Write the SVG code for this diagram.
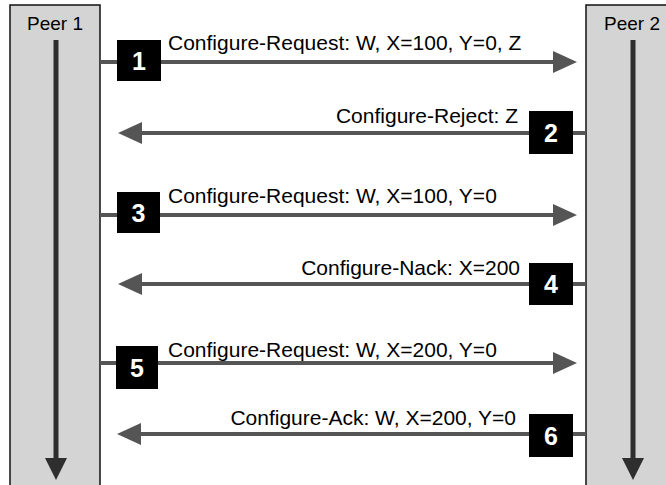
<svg xmlns="http://www.w3.org/2000/svg" width="666" height="485" viewBox="0 0 666 485">
<defs>
<style>
.peer{fill:#d4d4d4;stroke:#111;stroke-width:1.5}
.life{stroke:#2e2e2e;stroke-width:5}
.msg{stroke:#555;stroke-width:4;fill:none}
.badge{fill:#000}
.num{font-family:"Liberation Sans",Arial,sans-serif;font-weight:bold;font-size:25px;fill:#fff;text-anchor:middle}
.lbl{font-family:"Liberation Sans",Arial,sans-serif;font-size:21px;fill:#000}
.ptitle{font-family:"Liberation Sans",Arial,sans-serif;font-size:19px;fill:#000;text-anchor:middle}
</style>
<marker id="ah" markerUnits="userSpaceOnUse" markerWidth="24" markerHeight="22" viewBox="0 0 24 22" refX="1" refY="11" orient="auto">
<path d="M0,0 L24,11 L0,22 z" fill="#555"/>
</marker>
<marker id="lh" markerUnits="userSpaceOnUse" markerWidth="22" markerHeight="22" viewBox="0 0 22 22" refX="1" refY="11" orient="auto">
<path d="M0,0 L22,11 L0,22 z" fill="#2e2e2e"/>
</marker>
</defs>
<rect width="666" height="485" fill="#fff"/>
<g id="peer1">
<rect class="peer" x="10" y="5" width="90" height="485"/>
<text class="ptitle" x="55" y="30">Peer 1</text>
<line class="life" x1="56" y1="40" x2="56" y2="459" marker-end="url(#lh)"/>
</g>
<g id="peer2">
<rect class="peer" x="586" y="5" width="90" height="485"/>
<text class="ptitle" x="632" y="30">Peer 2</text>
<line class="life" x1="633" y1="40" x2="633" y2="459" marker-end="url(#lh)"/>
</g>
<g id="connectors">
<line class="msg" x1="100" y1="62" x2="554" y2="62" marker-end="url(#ah)"/>
<line class="msg" x1="586" y1="133" x2="141" y2="133" marker-end="url(#ah)"/>
<line class="msg" x1="100" y1="215" x2="554" y2="215" marker-end="url(#ah)"/>
<line class="msg" x1="586" y1="284" x2="141" y2="284" marker-end="url(#ah)"/>
<line class="msg" x1="100" y1="363" x2="554" y2="363" marker-end="url(#ah)"/>
<line class="msg" x1="586" y1="434" x2="140" y2="434" marker-end="url(#ah)"/>
</g>
<g id="m1">
<rect class="badge" x="117" y="40" width="44" height="41"/>
<text class="num" x="139" y="70">1</text>
<text class="lbl" x="168" y="50">Configure-Request: W, X=100, Y=0, Z</text>
</g>
<g id="m2">
<rect class="badge" x="529" y="111" width="44" height="43"/>
<text class="num" x="551" y="142">2</text>
<text class="lbl" x="518" y="123" text-anchor="end">Configure-Reject: Z</text>
</g>
<g id="m3">
<rect class="badge" x="117" y="192" width="43" height="41"/>
<text class="num" x="138.5" y="222">3</text>
<text class="lbl" x="168" y="203">Configure-Request: W, X=100, Y=0</text>
</g>
<g id="m4">
<rect class="badge" x="529" y="263" width="44" height="42"/>
<text class="num" x="551" y="293">4</text>
<text class="lbl" x="520" y="275" text-anchor="end">Configure-Nack: X=200</text>
</g>
<g id="m5">
<rect class="badge" x="116" y="346" width="42" height="43"/>
<text class="num" x="137" y="377">5</text>
<text class="lbl" x="168" y="357">Configure-Request: W, X=200, Y=0</text>
</g>
<g id="m6">
<rect class="badge" x="529" y="414" width="44" height="43"/>
<text class="num" x="551" y="445">6</text>
<text class="lbl" x="516" y="425" text-anchor="end">Configure-Ack: W, X=200, Y=0</text>
</g>
</svg>
